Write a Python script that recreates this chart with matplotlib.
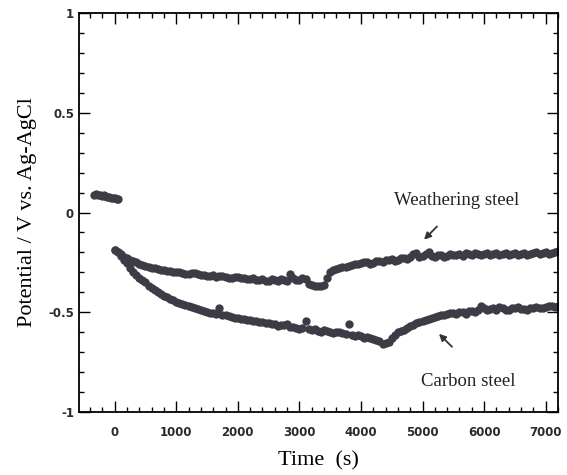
import matplotlib
matplotlib.use("Agg")
import matplotlib.pyplot as plt
from matplotlib.ticker import MultipleLocator

# open circuit before immersion start (both samples)
t_init = [-330, -300, -270, -240, -210, -180, -150, -120, -90, -60, -30, 0, 30, 50]
v_init = [0.09, 0.092, 0.088, 0.09, 0.085, 0.087, 0.082, 0.08, 0.078, 0.075, 0.072, 0.074, 0.068, 0.07]

t_run = [0, 100, 200, 300, 400, 500, 600, 700, 800, 900,
         1000, 1100, 1200, 1300, 1400, 1500, 1600, 1700, 1800, 1900,
         2000, 2100, 2200, 2300, 2400, 2500, 2600, 2700, 2800, 2900,
         3000, 3100, 3200, 3300, 3400, 3500, 3600, 3700, 3800, 3900,
         4000, 4100, 4200, 4300, 4400, 4500, 4600, 4700, 4800, 4900,
         5000, 5100, 5200, 5300, 5400, 5500, 5600, 5700, 5800, 5900,
         6000, 6100, 6200, 6300, 6400, 6500, 6600, 6700, 6800, 6900,
         7000, 7100, 7200]

t_mid = [50, 150, 250, 350, 450, 550, 650, 750, 850, 950,
         1050, 1150, 1250, 1350, 1450, 1550, 1650, 1750, 1850, 1950,
         2050, 2150, 2250, 2350, 2450, 2550, 2650, 2750, 2850, 2950,
         3050, 3150, 3250, 3350, 3450, 3550, 3650, 3750, 3850, 3950,
         4050, 4150, 4250, 4350, 4450, 4550, 4650, 4750, 4850, 4950,
         5050, 5150, 5250, 5350, 5450, 5550, 5650, 5750, 5850, 5950,
         6050, 6150, 6250, 6350, 6450, 6550, 6650, 6750, 6850, 6950,
         7050, 7150]

weathering = [-0.19, -0.21, -0.23, -0.245, -0.26, -0.27, -0.28, -0.285, -0.29, -0.295,
              -0.30, -0.305, -0.31, -0.305, -0.315, -0.32, -0.315, -0.32, -0.325, -0.33,
              -0.325, -0.33, -0.335, -0.34, -0.335, -0.345, -0.34, -0.335, -0.345, -0.33,
              -0.34, -0.335, -0.365, -0.37, -0.365, -0.30, -0.285, -0.275, -0.27, -0.26,
              -0.255, -0.25, -0.255, -0.245, -0.24, -0.235, -0.24, -0.23, -0.225, -0.205,
              -0.22, -0.20, -0.225, -0.215, -0.22, -0.215, -0.21, -0.205, -0.215, -0.21,
              -0.21, -0.215, -0.205, -0.21, -0.215, -0.205, -0.21, -0.215, -0.205, -0.21,
              -0.20, -0.205, -0.195]

weathering_mid = [-0.20, -0.225, -0.24, -0.25, -0.265, -0.275, -0.28, -0.29, -0.295, -0.30,
                  -0.30, -0.31, -0.305, -0.31, -0.315, -0.32, -0.325, -0.32, -0.33, -0.325,
                  -0.33, -0.335, -0.33, -0.34, -0.345, -0.335, -0.345, -0.34, -0.31, -0.34,
                  -0.33, -0.36, -0.37, -0.37, -0.33, -0.29, -0.28, -0.275, -0.265, -0.26,
                  -0.25, -0.26, -0.245, -0.25, -0.24, -0.245, -0.23, -0.235, -0.21, -0.225,
                  -0.21, -0.22, -0.215, -0.225, -0.21, -0.215, -0.22, -0.21, -0.205, -0.215,
                  -0.205, -0.21, -0.215, -0.205, -0.21, -0.215, -0.205, -0.21, -0.20, -0.205,
                  -0.21, -0.20]

carbon = [-0.19, -0.22, -0.255, -0.30, -0.33, -0.35, -0.38, -0.40, -0.42, -0.435,
          -0.45, -0.46, -0.47, -0.48, -0.49, -0.50, -0.505, -0.48, -0.515, -0.525,
          -0.53, -0.535, -0.54, -0.545, -0.55, -0.555, -0.56, -0.565, -0.56, -0.575,
          -0.585, -0.545, -0.59, -0.595, -0.59, -0.60, -0.60, -0.605, -0.56, -0.62,
          -0.62, -0.625, -0.635, -0.645, -0.655, -0.63, -0.60, -0.59, -0.57, -0.555,
          -0.545, -0.535, -0.525, -0.515, -0.51, -0.505, -0.50, -0.51, -0.495, -0.49,
          -0.48, -0.485, -0.49, -0.48, -0.49, -0.48, -0.485, -0.49, -0.48, -0.48,
          -0.475, -0.47, -0.47]

carbon_mid = [-0.20, -0.24, -0.28, -0.315, -0.34, -0.37, -0.39, -0.41, -0.425, -0.44,
              -0.455, -0.465, -0.475, -0.485, -0.495, -0.505, -0.51, -0.515, -0.52, -0.53,
              -0.535, -0.54, -0.545, -0.55, -0.555, -0.56, -0.57, -0.565, -0.575, -0.58,
              -0.58, -0.585, -0.585, -0.60, -0.595, -0.605, -0.60, -0.61, -0.615, -0.615,
              -0.63, -0.63, -0.64, -0.66, -0.65, -0.615, -0.595, -0.58, -0.565, -0.55,
              -0.54, -0.53, -0.52, -0.515, -0.505, -0.51, -0.50, -0.495, -0.50, -0.47,
              -0.49, -0.48, -0.475, -0.49, -0.48, -0.475, -0.485, -0.48, -0.475, -0.48,
              -0.47, -0.475]

xticks = [0, 1000, 2000, 3000, 4000, 5000, 6000, 7000]
yticks = [-1, -0.5, 0, 0.5, 1]
ytick_labels = ["-1", "-0.5", "0", "0.5", "1"]

dot = "#3c3c46"
ms = 6

fig = plt.figure(figsize=(5.67, 4.75), dpi=100)
ax = fig.add_axes([0.1393, 0.1326, 0.8448, 0.84])

ax.plot(t_init, v_init, "o", color=dot, ms=ms, mew=0)
ax.plot(t_run, weathering, "o", color=dot, ms=ms, mew=0)
ax.plot(t_mid, weathering_mid, "o", color=dot, ms=ms, mew=0)
ax.plot(t_run, carbon, "o", color=dot, ms=ms, mew=0)
ax.plot(t_mid, carbon_mid, "o", color=dot, ms=ms, mew=0)

ax.set_xlim(-580, 7200)
ax.set_ylim(-1, 1)
ax.set_xticks(xticks)
ax.set_xticklabels([str(v) for v in xticks])
ax.set_yticks(yticks)
ax.set_yticklabels(ytick_labels)
ax.xaxis.set_minor_locator(MultipleLocator(200))
ax.yaxis.set_minor_locator(MultipleLocator(0.1))

ax.tick_params(which="both", direction="in", top=True, right=True, width=1.0)
ax.tick_params(which="major", length=8)
ax.tick_params(which="minor", length=3.5)
ax.tick_params(axis="x", pad=10)
ax.tick_params(axis="y", pad=3.5)
for lab in ax.get_xticklabels() + ax.get_yticklabels():
    lab.set_fontfamily("DejaVu Sans")
    lab.set_fontweight("bold")
    lab.set_fontsize(8.5)
    lab.set_color("#2a2a2a")
for sp in ax.spines.values():
    sp.set_linewidth(1.3)

serif = "Liberation Serif"
ax.set_xlabel("Time  (s)", fontfamily=serif, fontsize=16, labelpad=9)
ax.set_ylabel("Potential / V vs. Ag-AgCl", fontfamily=serif, fontsize=16, labelpad=8)

ax.text(5560, 0.06, "Weathering steel", fontfamily=serif, fontsize=13.5,
        ha="center", va="center", color="#222222")
ax.text(5750, -0.845, "Carbon steel", fontfamily=serif, fontsize=13.5,
        ha="center", va="center", color="#222222")
ax.annotate("", xy=(5024, -0.136), xytext=(5235, -0.07),
            arrowprops=dict(arrowstyle="-|>", color="#333333", lw=1.3,
                            mutation_scale=10, shrinkA=0, shrinkB=0))
ax.annotate("", xy=(5267, -0.608), xytext=(5478, -0.673),
            arrowprops=dict(arrowstyle="-|>", color="#333333", lw=1.3,
                            mutation_scale=10, shrinkA=0, shrinkB=0))

fig.savefig("out.png", dpi=100)
